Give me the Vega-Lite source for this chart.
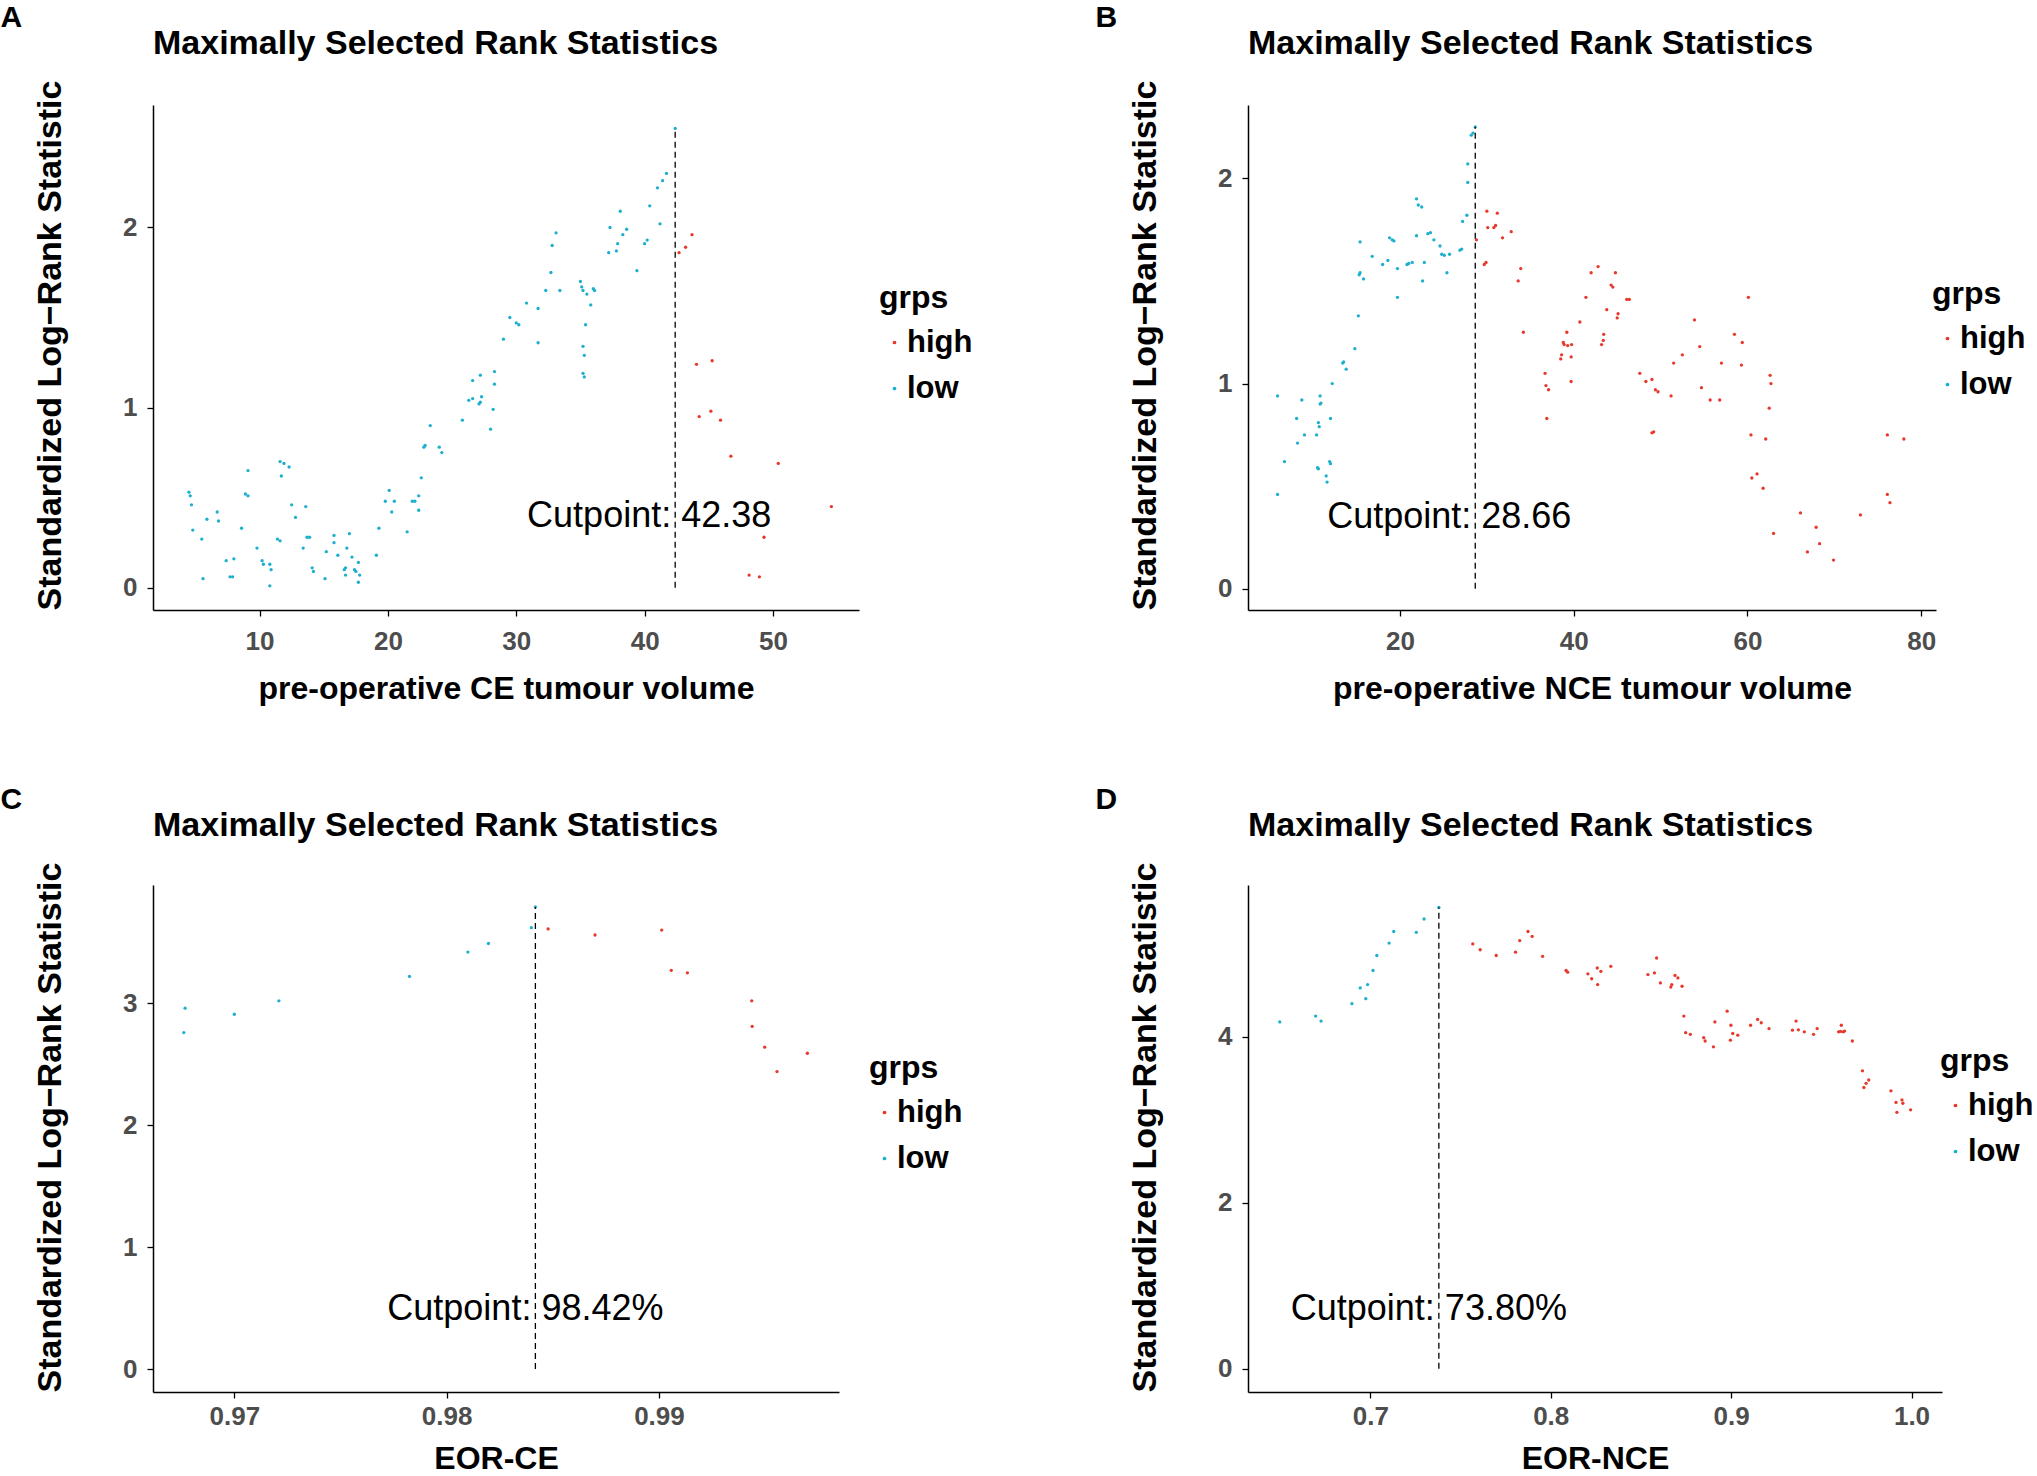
{
  "$schema": "https://vega.github.io/schema/vega-lite/v6.json",
  "background": "white",
  "padding": {"left": 0, "top": 3, "right": 0, "bottom": 0},
  "datasets": {
    "ce": [
      {"cutoff": 4.5, "stat": 0.53, "grps": "low"}, {"cutoff": 4.6, "stat": 0.51, "grps": "low"}, {"cutoff": 4.7, "stat": 0.46, "grps": "low"},
      {"cutoff": 4.8, "stat": 0.32, "grps": "low"}, {"cutoff": 5.5, "stat": 0.27, "grps": "low"}, {"cutoff": 5.6, "stat": 0.05, "grps": "low"},
      {"cutoff": 5.9, "stat": 0.38, "grps": "low"}, {"cutoff": 6.7, "stat": 0.42, "grps": "low"}, {"cutoff": 6.8, "stat": 0.37, "grps": "low"},
      {"cutoff": 7.4, "stat": 0.15, "grps": "low"}, {"cutoff": 8.0, "stat": 0.16, "grps": "low"}, {"cutoff": 7.7, "stat": 0.06, "grps": "low"},
      {"cutoff": 7.9, "stat": 0.06, "grps": "low"}, {"cutoff": 8.6, "stat": 0.33, "grps": "low"}, {"cutoff": 8.9, "stat": 0.52, "grps": "low"},
      {"cutoff": 9.1, "stat": 0.51, "grps": "low"}, {"cutoff": 9.1, "stat": 0.65, "grps": "low"}, {"cutoff": 9.8, "stat": 0.22, "grps": "low"},
      {"cutoff": 10.2, "stat": 0.15, "grps": "low"}, {"cutoff": 10.3, "stat": 0.13, "grps": "low"}, {"cutoff": 10.8, "stat": 0.13, "grps": "low"},
      {"cutoff": 10.9, "stat": 0.10, "grps": "low"}, {"cutoff": 10.8, "stat": 0.01, "grps": "low"}, {"cutoff": 11.4, "stat": 0.27, "grps": "low"},
      {"cutoff": 11.6, "stat": 0.26, "grps": "low"}, {"cutoff": 11.6, "stat": 0.70, "grps": "low"}, {"cutoff": 11.9, "stat": 0.69, "grps": "low"},
      {"cutoff": 12.3, "stat": 0.67, "grps": "low"}, {"cutoff": 11.7, "stat": 0.62, "grps": "low"}, {"cutoff": 12.5, "stat": 0.46, "grps": "low"},
      {"cutoff": 12.8, "stat": 0.39, "grps": "low"}, {"cutoff": 13.4, "stat": 0.22, "grps": "low"}, {"cutoff": 13.6, "stat": 0.45, "grps": "low"},
      {"cutoff": 13.7, "stat": 0.28, "grps": "low"}, {"cutoff": 13.9, "stat": 0.28, "grps": "low"}, {"cutoff": 14.1, "stat": 0.11, "grps": "low"},
      {"cutoff": 14.2, "stat": 0.09, "grps": "low"}, {"cutoff": 15.1, "stat": 0.05, "grps": "low"}, {"cutoff": 15.2, "stat": 0.20, "grps": "low"},
      {"cutoff": 15.8, "stat": 0.29, "grps": "low"}, {"cutoff": 15.8, "stat": 0.25, "grps": "low"}, {"cutoff": 16.1, "stat": 0.18, "grps": "low"},
      {"cutoff": 16.6, "stat": 0.10, "grps": "low"}, {"cutoff": 16.7, "stat": 0.07, "grps": "low"}, {"cutoff": 16.7, "stat": 0.11, "grps": "low"},
      {"cutoff": 16.8, "stat": 0.22, "grps": "low"}, {"cutoff": 17.0, "stat": 0.30, "grps": "low"}, {"cutoff": 17.2, "stat": 0.17, "grps": "low"},
      {"cutoff": 17.4, "stat": 0.10, "grps": "low"}, {"cutoff": 17.5, "stat": 0.09, "grps": "low"}, {"cutoff": 17.8, "stat": 0.07, "grps": "low"},
      {"cutoff": 17.7, "stat": 0.14, "grps": "low"}, {"cutoff": 17.7, "stat": 0.03, "grps": "low"}, {"cutoff": 19.1, "stat": 0.18, "grps": "low"},
      {"cutoff": 19.3, "stat": 0.33, "grps": "low"}, {"cutoff": 19.8, "stat": 0.48, "grps": "low"}, {"cutoff": 20.1, "stat": 0.54, "grps": "low"},
      {"cutoff": 20.3, "stat": 0.42, "grps": "low"}, {"cutoff": 20.5, "stat": 0.48, "grps": "low"}, {"cutoff": 21.5, "stat": 0.31, "grps": "low"},
      {"cutoff": 21.9, "stat": 0.48, "grps": "low"}, {"cutoff": 22.1, "stat": 0.48, "grps": "low"}, {"cutoff": 22.4, "stat": 0.51, "grps": "low"},
      {"cutoff": 22.4, "stat": 0.43, "grps": "low"}, {"cutoff": 22.6, "stat": 0.61, "grps": "low"}, {"cutoff": 22.8, "stat": 0.78, "grps": "low"},
      {"cutoff": 22.9, "stat": 0.79, "grps": "low"}, {"cutoff": 23.3, "stat": 0.90, "grps": "low"}, {"cutoff": 24.0, "stat": 0.78, "grps": "low"},
      {"cutoff": 24.2, "stat": 0.75, "grps": "low"}, {"cutoff": 25.8, "stat": 0.93, "grps": "low"}, {"cutoff": 26.3, "stat": 1.04, "grps": "low"},
      {"cutoff": 26.6, "stat": 1.05, "grps": "low"}, {"cutoff": 26.6, "stat": 1.15, "grps": "low"}, {"cutoff": 27.1, "stat": 1.02, "grps": "low"},
      {"cutoff": 27.2, "stat": 1.03, "grps": "low"}, {"cutoff": 27.2, "stat": 1.18, "grps": "low"}, {"cutoff": 27.3, "stat": 1.06, "grps": "low"},
      {"cutoff": 28.0, "stat": 0.88, "grps": "low"}, {"cutoff": 28.2, "stat": 0.99, "grps": "low"}, {"cutoff": 28.3, "stat": 1.13, "grps": "low"},
      {"cutoff": 28.3, "stat": 1.20, "grps": "low"}, {"cutoff": 29.0, "stat": 1.38, "grps": "low"}, {"cutoff": 29.5, "stat": 1.50, "grps": "low"},
      {"cutoff": 30.0, "stat": 1.47, "grps": "low"}, {"cutoff": 30.2, "stat": 1.46, "grps": "low"}, {"cutoff": 30.8, "stat": 1.58, "grps": "low"},
      {"cutoff": 31.7, "stat": 1.55, "grps": "low"}, {"cutoff": 31.7, "stat": 1.36, "grps": "low"}, {"cutoff": 32.3, "stat": 1.65, "grps": "low"},
      {"cutoff": 32.7, "stat": 1.75, "grps": "low"}, {"cutoff": 32.8, "stat": 1.90, "grps": "low"}, {"cutoff": 33.1, "stat": 1.97, "grps": "low"},
      {"cutoff": 33.4, "stat": 1.65, "grps": "low"}, {"cutoff": 35.0, "stat": 1.70, "grps": "low"}, {"cutoff": 35.1, "stat": 1.67, "grps": "low"},
      {"cutoff": 35.2, "stat": 1.65, "grps": "low"}, {"cutoff": 35.2, "stat": 1.34, "grps": "low"}, {"cutoff": 35.3, "stat": 1.29, "grps": "low"},
      {"cutoff": 35.2, "stat": 1.19, "grps": "low"}, {"cutoff": 35.3, "stat": 1.17, "grps": "low"}, {"cutoff": 35.4, "stat": 1.46, "grps": "low"},
      {"cutoff": 35.5, "stat": 1.63, "grps": "low"}, {"cutoff": 35.8, "stat": 1.57, "grps": "low"}, {"cutoff": 36.0, "stat": 1.66, "grps": "low"},
      {"cutoff": 36.1, "stat": 1.65, "grps": "low"}, {"cutoff": 37.2, "stat": 1.86, "grps": "low"}, {"cutoff": 37.3, "stat": 2.00, "grps": "low"},
      {"cutoff": 37.8, "stat": 1.87, "grps": "low"}, {"cutoff": 37.9, "stat": 1.91, "grps": "low"}, {"cutoff": 38.1, "stat": 2.09, "grps": "low"},
      {"cutoff": 38.3, "stat": 1.96, "grps": "low"}, {"cutoff": 38.6, "stat": 1.99, "grps": "low"}, {"cutoff": 39.4, "stat": 1.76, "grps": "low"},
      {"cutoff": 40.0, "stat": 1.91, "grps": "low"}, {"cutoff": 40.2, "stat": 1.93, "grps": "low"}, {"cutoff": 40.4, "stat": 2.12, "grps": "low"},
      {"cutoff": 41.0, "stat": 2.22, "grps": "low"}, {"cutoff": 41.2, "stat": 2.02, "grps": "low"}, {"cutoff": 41.4, "stat": 2.26, "grps": "low"},
      {"cutoff": 41.7, "stat": 2.30, "grps": "low"}, {"cutoff": 42.38, "stat": 2.55, "grps": "low"},
      {"cutoff": 42.68, "stat": 1.86, "grps": "high"}, {"cutoff": 43.19, "stat": 1.89, "grps": "high"}, {"cutoff": 43.69, "stat": 1.96, "grps": "high"},
      {"cutoff": 44.04, "stat": 1.24, "grps": "high"}, {"cutoff": 44.25, "stat": 0.95, "grps": "high"}, {"cutoff": 45.26, "stat": 1.26, "grps": "high"},
      {"cutoff": 45.16, "stat": 0.98, "grps": "high"}, {"cutoff": 45.91, "stat": 0.93, "grps": "high"}, {"cutoff": 46.72, "stat": 0.73, "grps": "high"},
      {"cutoff": 48.14, "stat": 0.07, "grps": "high"}, {"cutoff": 48.94, "stat": 0.06, "grps": "high"}, {"cutoff": 49.3, "stat": 0.28, "grps": "high"},
      {"cutoff": 50.41, "stat": 0.69, "grps": "high"}, {"cutoff": 54.55, "stat": 0.45, "grps": "high"}
    ],
    "nce": [
      {"cutoff": 5.9, "stat": 0.94, "grps": "low"}, {"cutoff": 5.9, "stat": 0.46, "grps": "low"}, {"cutoff": 6.7, "stat": 0.62, "grps": "low"},
      {"cutoff": 8.1, "stat": 0.83, "grps": "low"}, {"cutoff": 8.2, "stat": 0.71, "grps": "low"}, {"cutoff": 8.7, "stat": 0.92, "grps": "low"},
      {"cutoff": 9.0, "stat": 0.75, "grps": "low"}, {"cutoff": 10.4, "stat": 0.75, "grps": "low"}, {"cutoff": 10.5, "stat": 0.59, "grps": "low"},
      {"cutoff": 10.6, "stat": 0.585, "grps": "low"}, {"cutoff": 10.6, "stat": 0.81, "grps": "low"}, {"cutoff": 10.7, "stat": 0.79, "grps": "low"},
      {"cutoff": 10.8, "stat": 0.94, "grps": "low"}, {"cutoff": 10.8, "stat": 0.90, "grps": "low"}, {"cutoff": 10.9, "stat": 0.905, "grps": "low"},
      {"cutoff": 11.5, "stat": 0.55, "grps": "low"}, {"cutoff": 11.6, "stat": 0.52, "grps": "low"}, {"cutoff": 11.9, "stat": 0.62, "grps": "low"},
      {"cutoff": 12.0, "stat": 0.61, "grps": "low"}, {"cutoff": 12.0, "stat": 0.83, "grps": "low"}, {"cutoff": 12.2, "stat": 1.00, "grps": "low"},
      {"cutoff": 13.4, "stat": 1.10, "grps": "low"}, {"cutoff": 13.5, "stat": 1.105, "grps": "low"}, {"cutoff": 13.8, "stat": 1.07, "grps": "low"},
      {"cutoff": 14.8, "stat": 1.17, "grps": "low"}, {"cutoff": 15.2, "stat": 1.33, "grps": "low"}, {"cutoff": 15.3, "stat": 1.53, "grps": "low"},
      {"cutoff": 15.4, "stat": 1.54, "grps": "low"}, {"cutoff": 15.4, "stat": 1.69, "grps": "low"}, {"cutoff": 15.8, "stat": 1.51, "grps": "low"},
      {"cutoff": 16.8, "stat": 1.62, "grps": "low"}, {"cutoff": 18.0, "stat": 1.58, "grps": "low"}, {"cutoff": 18.6, "stat": 1.60, "grps": "low"},
      {"cutoff": 18.8, "stat": 1.71, "grps": "low"}, {"cutoff": 19.1, "stat": 1.70, "grps": "low"}, {"cutoff": 19.3, "stat": 1.695, "grps": "low"},
      {"cutoff": 19.7, "stat": 1.56, "grps": "low"}, {"cutoff": 19.7, "stat": 1.42, "grps": "low"}, {"cutoff": 20.8, "stat": 1.58, "grps": "low"},
      {"cutoff": 21.0, "stat": 1.585, "grps": "low"}, {"cutoff": 21.4, "stat": 1.59, "grps": "low"}, {"cutoff": 21.9, "stat": 1.72, "grps": "low"},
      {"cutoff": 21.9, "stat": 1.90, "grps": "low"}, {"cutoff": 22.1, "stat": 1.87, "grps": "low"}, {"cutoff": 22.5, "stat": 1.86, "grps": "low"},
      {"cutoff": 22.6, "stat": 1.50, "grps": "low"}, {"cutoff": 22.8, "stat": 1.59, "grps": "low"}, {"cutoff": 23.2, "stat": 1.73, "grps": "low"},
      {"cutoff": 23.5, "stat": 1.735, "grps": "low"}, {"cutoff": 23.9, "stat": 1.70, "grps": "low"}, {"cutoff": 24.6, "stat": 1.67, "grps": "low"},
      {"cutoff": 24.8, "stat": 1.63, "grps": "low"}, {"cutoff": 25.1, "stat": 1.625, "grps": "low"}, {"cutoff": 25.4, "stat": 1.54, "grps": "low"},
      {"cutoff": 25.7, "stat": 1.63, "grps": "low"}, {"cutoff": 26.9, "stat": 1.65, "grps": "low"}, {"cutoff": 27.1, "stat": 1.655, "grps": "low"},
      {"cutoff": 27.2, "stat": 1.79, "grps": "low"}, {"cutoff": 27.7, "stat": 1.82, "grps": "low"}, {"cutoff": 27.8, "stat": 1.98, "grps": "low"},
      {"cutoff": 27.8, "stat": 2.07, "grps": "low"}, {"cutoff": 28.2, "stat": 2.21, "grps": "low"}, {"cutoff": 28.4, "stat": 2.22, "grps": "low"},
      {"cutoff": 28.66, "stat": 2.25, "grps": "low"},
      {"cutoff": 28.8, "stat": 1.70, "grps": "high"}, {"cutoff": 29.7, "stat": 1.58, "grps": "high"}, {"cutoff": 29.9, "stat": 1.59, "grps": "high"},
      {"cutoff": 30.0, "stat": 1.84, "grps": "high"}, {"cutoff": 30.1, "stat": 1.76, "grps": "high"}, {"cutoff": 30.8, "stat": 1.76, "grps": "high"},
      {"cutoff": 31.0, "stat": 1.77, "grps": "high"}, {"cutoff": 31.2, "stat": 1.83, "grps": "high"}, {"cutoff": 31.8, "stat": 1.71, "grps": "high"},
      {"cutoff": 32.8, "stat": 1.74, "grps": "high"}, {"cutoff": 33.6, "stat": 1.50, "grps": "high"}, {"cutoff": 33.9, "stat": 1.56, "grps": "high"},
      {"cutoff": 34.2, "stat": 1.25, "grps": "high"}, {"cutoff": 36.7, "stat": 1.05, "grps": "high"}, {"cutoff": 36.8, "stat": 0.99, "grps": "high"},
      {"cutoff": 36.9, "stat": 0.83, "grps": "high"}, {"cutoff": 37.1, "stat": 0.97, "grps": "high"}, {"cutoff": 38.5, "stat": 1.12, "grps": "high"},
      {"cutoff": 38.6, "stat": 1.14, "grps": "high"}, {"cutoff": 38.8, "stat": 1.20, "grps": "high"}, {"cutoff": 38.9, "stat": 1.19, "grps": "high"},
      {"cutoff": 39.2, "stat": 1.25, "grps": "high"}, {"cutoff": 39.3, "stat": 1.185, "grps": "high"}, {"cutoff": 39.7, "stat": 1.13, "grps": "high"},
      {"cutoff": 39.75, "stat": 1.19, "grps": "high"}, {"cutoff": 39.7, "stat": 1.01, "grps": "high"}, {"cutoff": 40.7, "stat": 1.30, "grps": "high"},
      {"cutoff": 41.4, "stat": 1.42, "grps": "high"}, {"cutoff": 42.0, "stat": 1.54, "grps": "high"}, {"cutoff": 42.8, "stat": 1.57, "grps": "high"},
      {"cutoff": 43.2, "stat": 1.19, "grps": "high"}, {"cutoff": 43.4, "stat": 1.21, "grps": "high"}, {"cutoff": 43.45, "stat": 1.24, "grps": "high"},
      {"cutoff": 43.8, "stat": 1.36, "grps": "high"}, {"cutoff": 44.3, "stat": 1.48, "grps": "high"}, {"cutoff": 44.5, "stat": 1.47, "grps": "high"},
      {"cutoff": 44.8, "stat": 1.54, "grps": "high"}, {"cutoff": 45.0, "stat": 1.32, "grps": "high"}, {"cutoff": 45.1, "stat": 1.34, "grps": "high"},
      {"cutoff": 46.1, "stat": 1.41, "grps": "high"}, {"cutoff": 46.4, "stat": 1.41, "grps": "high"}, {"cutoff": 47.6, "stat": 1.05, "grps": "high"},
      {"cutoff": 48.3, "stat": 1.01, "grps": "high"}, {"cutoff": 49.0, "stat": 1.02, "grps": "high"}, {"cutoff": 49.0, "stat": 0.76, "grps": "high"},
      {"cutoff": 49.2, "stat": 0.765, "grps": "high"}, {"cutoff": 49.4, "stat": 0.97, "grps": "high"}, {"cutoff": 49.7, "stat": 0.96, "grps": "high"},
      {"cutoff": 51.2, "stat": 0.94, "grps": "high"}, {"cutoff": 51.5, "stat": 1.10, "grps": "high"}, {"cutoff": 52.5, "stat": 1.14, "grps": "high"},
      {"cutoff": 53.9, "stat": 1.31, "grps": "high"}, {"cutoff": 54.5, "stat": 1.18, "grps": "high"}, {"cutoff": 54.7, "stat": 0.98, "grps": "high"},
      {"cutoff": 55.7, "stat": 0.92, "grps": "high"}, {"cutoff": 56.8, "stat": 0.92, "grps": "high"}, {"cutoff": 57.0, "stat": 1.10, "grps": "high"},
      {"cutoff": 58.5, "stat": 1.24, "grps": "high"}, {"cutoff": 59.3, "stat": 1.09, "grps": "high"}, {"cutoff": 59.4, "stat": 1.20, "grps": "high"},
      {"cutoff": 60.1, "stat": 1.42, "grps": "high"}, {"cutoff": 60.4, "stat": 0.75, "grps": "high"}, {"cutoff": 60.5, "stat": 0.54, "grps": "high"},
      {"cutoff": 61.1, "stat": 0.56, "grps": "high"}, {"cutoff": 61.8, "stat": 0.49, "grps": "high"}, {"cutoff": 62.1, "stat": 0.73, "grps": "high"},
      {"cutoff": 62.5, "stat": 0.88, "grps": "high"}, {"cutoff": 62.6, "stat": 1.04, "grps": "high"}, {"cutoff": 62.7, "stat": 1.00, "grps": "high"},
      {"cutoff": 63.0, "stat": 0.27, "grps": "high"}, {"cutoff": 66.1, "stat": 0.37, "grps": "high"}, {"cutoff": 66.9, "stat": 0.18, "grps": "high"},
      {"cutoff": 67.9, "stat": 0.30, "grps": "high"}, {"cutoff": 68.3, "stat": 0.22, "grps": "high"}, {"cutoff": 69.9, "stat": 0.14, "grps": "high"},
      {"cutoff": 73.0, "stat": 0.36, "grps": "high"}, {"cutoff": 76.1, "stat": 0.75, "grps": "high"}, {"cutoff": 76.1, "stat": 0.46, "grps": "high"},
      {"cutoff": 76.4, "stat": 0.42, "grps": "high"}, {"cutoff": 78.0, "stat": 0.73, "grps": "high"}
    ],
    "eorce": [
      {"cutoff": 0.96768, "stat": 2.96, "grps": "low"}, {"cutoff": 0.96762, "stat": 2.76, "grps": "low"}, {"cutoff": 0.97000, "stat": 2.91, "grps": "low"},
      {"cutoff": 0.97210, "stat": 3.02, "grps": "low"}, {"cutoff": 0.97825, "stat": 3.22, "grps": "low"}, {"cutoff": 0.98100, "stat": 3.42, "grps": "low"},
      {"cutoff": 0.98197, "stat": 3.49, "grps": "low"}, {"cutoff": 0.98399, "stat": 3.62, "grps": "low"}, {"cutoff": 0.98418, "stat": 3.79, "grps": "low"},
      {"cutoff": 0.98478, "stat": 3.61, "grps": "high"}, {"cutoff": 0.98699, "stat": 3.56, "grps": "high"}, {"cutoff": 0.99013, "stat": 3.60, "grps": "high"},
      {"cutoff": 0.99058, "stat": 3.27, "grps": "high"}, {"cutoff": 0.99134, "stat": 3.25, "grps": "high"}, {"cutoff": 0.99437, "stat": 3.02, "grps": "high"},
      {"cutoff": 0.99439, "stat": 2.81, "grps": "high"}, {"cutoff": 0.99498, "stat": 2.64, "grps": "high"}, {"cutoff": 0.99556, "stat": 2.44, "grps": "high"},
      {"cutoff": 0.99699, "stat": 2.59, "grps": "high"}
    ],
    "eornce": [
      {"cutoff": 0.6498, "stat": 4.18, "grps": "low"}, {"cutoff": 0.6697, "stat": 4.25, "grps": "low"}, {"cutoff": 0.6727, "stat": 4.19, "grps": "low"},
      {"cutoff": 0.6898, "stat": 4.40, "grps": "low"}, {"cutoff": 0.6944, "stat": 4.59, "grps": "low"}, {"cutoff": 0.6975, "stat": 4.46, "grps": "low"},
      {"cutoff": 0.6985, "stat": 4.63, "grps": "low"}, {"cutoff": 0.7015, "stat": 4.80, "grps": "low"}, {"cutoff": 0.7036, "stat": 4.98, "grps": "low"},
      {"cutoff": 0.7104, "stat": 5.13, "grps": "low"}, {"cutoff": 0.7130, "stat": 5.27, "grps": "low"}, {"cutoff": 0.7255, "stat": 5.26, "grps": "low"},
      {"cutoff": 0.7298, "stat": 5.42, "grps": "low"}, {"cutoff": 0.7380, "stat": 5.56, "grps": "low"},
      {"cutoff": 0.7568, "stat": 5.12, "grps": "high"}, {"cutoff": 0.7609, "stat": 5.05, "grps": "high"}, {"cutoff": 0.7698, "stat": 4.98, "grps": "high"},
      {"cutoff": 0.7805, "stat": 5.02, "grps": "high"}, {"cutoff": 0.7828, "stat": 5.16, "grps": "high"}, {"cutoff": 0.7874, "stat": 5.27, "grps": "high"},
      {"cutoff": 0.7897, "stat": 5.21, "grps": "high"}, {"cutoff": 0.7955, "stat": 4.97, "grps": "high"}, {"cutoff": 0.8085, "stat": 4.80, "grps": "high"},
      {"cutoff": 0.8094, "stat": 4.78, "grps": "high"}, {"cutoff": 0.8206, "stat": 4.76, "grps": "high"}, {"cutoff": 0.8227, "stat": 4.70, "grps": "high"},
      {"cutoff": 0.8260, "stat": 4.63, "grps": "high"}, {"cutoff": 0.8258, "stat": 4.83, "grps": "high"}, {"cutoff": 0.8278, "stat": 4.79, "grps": "high"},
      {"cutoff": 0.8333, "stat": 4.85, "grps": "high"}, {"cutoff": 0.8539, "stat": 4.75, "grps": "high"}, {"cutoff": 0.8575, "stat": 4.77, "grps": "high"},
      {"cutoff": 0.8587, "stat": 4.95, "grps": "high"}, {"cutoff": 0.8608, "stat": 4.65, "grps": "high"}, {"cutoff": 0.8666, "stat": 4.60, "grps": "high"},
      {"cutoff": 0.8671, "stat": 4.63, "grps": "high"}, {"cutoff": 0.8689, "stat": 4.74, "grps": "high"}, {"cutoff": 0.8705, "stat": 4.71, "grps": "high"},
      {"cutoff": 0.8728, "stat": 4.61, "grps": "high"}, {"cutoff": 0.8738, "stat": 4.25, "grps": "high"}, {"cutoff": 0.8748, "stat": 4.05, "grps": "high"},
      {"cutoff": 0.8774, "stat": 4.03, "grps": "high"}, {"cutoff": 0.8848, "stat": 3.99, "grps": "high"}, {"cutoff": 0.8856, "stat": 3.95, "grps": "high"},
      {"cutoff": 0.8902, "stat": 3.88, "grps": "high"}, {"cutoff": 0.8910, "stat": 4.18, "grps": "high"}, {"cutoff": 0.8978, "stat": 4.31, "grps": "high"},
      {"cutoff": 0.8996, "stat": 3.96, "grps": "high"}, {"cutoff": 0.8999, "stat": 4.14, "grps": "high"}, {"cutoff": 0.9009, "stat": 4.04, "grps": "high"},
      {"cutoff": 0.9037, "stat": 4.02, "grps": "high"}, {"cutoff": 0.9108, "stat": 4.14, "grps": "high"}, {"cutoff": 0.9147, "stat": 4.21, "grps": "high"},
      {"cutoff": 0.9167, "stat": 4.17, "grps": "high"}, {"cutoff": 0.9210, "stat": 4.10, "grps": "high"}, {"cutoff": 0.9340, "stat": 4.08, "grps": "high"},
      {"cutoff": 0.9360, "stat": 4.19, "grps": "high"}, {"cutoff": 0.9373, "stat": 4.085, "grps": "high"}, {"cutoff": 0.9406, "stat": 4.06, "grps": "high"},
      {"cutoff": 0.9457, "stat": 4.03, "grps": "high"}, {"cutoff": 0.9477, "stat": 4.10, "grps": "high"}, {"cutoff": 0.9596, "stat": 4.06, "grps": "high"},
      {"cutoff": 0.9606, "stat": 4.065, "grps": "high"}, {"cutoff": 0.9621, "stat": 4.06, "grps": "high"}, {"cutoff": 0.9629, "stat": 4.07, "grps": "high"},
      {"cutoff": 0.9611, "stat": 4.14, "grps": "high"}, {"cutoff": 0.9672, "stat": 3.95, "grps": "high"}, {"cutoff": 0.9728, "stat": 3.59, "grps": "high"},
      {"cutoff": 0.9736, "stat": 3.39, "grps": "high"}, {"cutoff": 0.9748, "stat": 3.44, "grps": "high"}, {"cutoff": 0.9763, "stat": 3.48, "grps": "high"},
      {"cutoff": 0.9886, "stat": 3.35, "grps": "high"}, {"cutoff": 0.9914, "stat": 3.21, "grps": "high"}, {"cutoff": 0.9919, "stat": 3.09, "grps": "high"},
      {"cutoff": 0.9947, "stat": 3.24, "grps": "high"}, {"cutoff": 0.9952, "stat": 3.20, "grps": "high"}, {"cutoff": 0.9995, "stat": 3.12, "grps": "high"}
    ],
    "cuts": [
      {"panel": "A", "cutoff": 42.38, "base": 0, "top": 2.55, "label_y": 0.40, "label": "42.38"},
      {"panel": "B", "cutoff": 28.66, "base": 0, "top": 2.25, "label_y": 0.35, "label": "28.66"},
      {"panel": "C", "cutoff": 0.98418, "base": 0, "top": 3.79, "label_y": 0.49, "label": "98.42%"},
      {"panel": "D", "cutoff": 0.7380, "base": 0, "top": 5.56, "label_y": 0.72, "label": "73.80%"}
    ]
  },
  "spacing": 81,
  "resolve": {"scale": {"color": "independent"}, "legend": {"color": "independent"}},
  "vconcat": [
    {
      "spacing": 122,
      "resolve": {"scale": {"color": "independent"}, "legend": {"color": "independent"}},
      "hconcat": [
        {
          "title": {"text": "A", "anchor": "start", "frame": "bounds", "dx": -33, "offset": -6, "fontSize": 30},
          "vconcat": [
            {
              "width": 706,
              "height": 505,
              "title": "Maximally Selected Rank Statistics",
              "layer": [
                {
                  "data": {"name": "ce"},
                  "mark": {"type": "circle", "size": 11, "opacity": 1},
                  "encoding": {
                    "x": {"field": "cutoff", "type": "quantitative", "title": "pre-operative CE tumour volume", "scale": {"domain": [1.7, 56.7], "nice": false, "zero": false}, "axis": {"values": [10, 20, 30, 40, 50]}},
                    "y": {"field": "stat", "type": "quantitative", "title": "Standardized Log−Rank Statistic", "scale": {"domain": [-0.124, 2.68], "nice": false, "zero": false}, "axis": {"values": [0, 1, 2], "format": "d"}},
                    "color": {"field": "grps", "type": "nominal", "title": "grps", "scale": {"domain": ["high", "low"], "range": ["#E8382C", "#1DAFCE"]}, "legend": {"orient": "none", "legendX": 726, "legendY": 178}}
                  }
                },
                {
                  "data": {"name": "cuts"},
                  "transform": [{"filter": "datum.panel == 'A'"}],
                  "mark": {"type": "rule", "color": "black", "strokeWidth": 1.3, "strokeDash": [6, 4]},
                  "encoding": {
                    "x": {"field": "cutoff", "type": "quantitative", "title": "pre-operative CE tumour volume"},
                    "y": {"field": "base", "type": "quantitative", "title": "Standardized Log−Rank Statistic"},
                    "y2": {"field": "top"}
                  }
                },
                {
                  "data": {"name": "cuts"},
                  "transform": [{"filter": "datum.panel == 'A'"}],
                  "mark": {"type": "text", "align": "right", "baseline": "middle", "dx": -4, "fontSize": 36, "color": "black"},
                  "encoding": {
                    "x": {"field": "cutoff", "type": "quantitative", "title": "pre-operative CE tumour volume"},
                    "y": {"field": "label_y", "type": "quantitative", "title": "Standardized Log−Rank Statistic"},
                    "text": {"value": "Cutpoint:"}
                  }
                },
                {
                  "data": {"name": "cuts"},
                  "transform": [{"filter": "datum.panel == 'A'"}],
                  "mark": {"type": "text", "align": "left", "baseline": "middle", "dx": 6, "fontSize": 36, "color": "black"},
                  "encoding": {
                    "x": {"field": "cutoff", "type": "quantitative", "title": "pre-operative CE tumour volume"},
                    "y": {"field": "label_y", "type": "quantitative", "title": "Standardized Log−Rank Statistic"},
                    "text": {"field": "label"}
                  }
                }
              ]
            }
          ]
        },
        {
          "title": {"text": "B", "anchor": "start", "frame": "bounds", "dx": -33, "offset": -6, "fontSize": 30},
          "vconcat": [
            {
              "width": 688,
              "height": 505,
              "title": "Maximally Selected Rank Statistics",
              "layer": [
                {
                  "data": {"name": "nce"},
                  "mark": {"type": "circle", "size": 11, "opacity": 1},
                  "encoding": {
                    "x": {"field": "cutoff", "type": "quantitative", "title": "pre-operative NCE tumour volume", "scale": {"domain": [2.5, 81.7], "nice": false, "zero": false}, "axis": {"values": [20, 40, 60, 80]}},
                    "y": {"field": "stat", "type": "quantitative", "title": "Standardized Log−Rank Statistic", "scale": {"domain": [-0.103, 2.357], "nice": false, "zero": false}, "axis": {"values": [0, 1, 2], "format": "d"}},
                    "color": {"field": "grps", "type": "nominal", "title": "grps", "scale": {"domain": ["high", "low"], "range": ["#E8382C", "#1DAFCE"]}, "legend": {"orient": "none", "legendX": 684, "legendY": 174}}
                  }
                },
                {
                  "data": {"name": "cuts"},
                  "transform": [{"filter": "datum.panel == 'B'"}],
                  "mark": {"type": "rule", "color": "black", "strokeWidth": 1.3, "strokeDash": [6, 4]},
                  "encoding": {
                    "x": {"field": "cutoff", "type": "quantitative", "title": "pre-operative NCE tumour volume"},
                    "y": {"field": "base", "type": "quantitative", "title": "Standardized Log−Rank Statistic"},
                    "y2": {"field": "top"}
                  }
                },
                {
                  "data": {"name": "cuts"},
                  "transform": [{"filter": "datum.panel == 'B'"}],
                  "mark": {"type": "text", "align": "right", "baseline": "middle", "dx": -4, "fontSize": 36, "color": "black"},
                  "encoding": {
                    "x": {"field": "cutoff", "type": "quantitative", "title": "pre-operative NCE tumour volume"},
                    "y": {"field": "label_y", "type": "quantitative", "title": "Standardized Log−Rank Statistic"},
                    "text": {"value": "Cutpoint:"}
                  }
                },
                {
                  "data": {"name": "cuts"},
                  "transform": [{"filter": "datum.panel == 'B'"}],
                  "mark": {"type": "text", "align": "left", "baseline": "middle", "dx": 6, "fontSize": 36, "color": "black"},
                  "encoding": {
                    "x": {"field": "cutoff", "type": "quantitative", "title": "pre-operative NCE tumour volume"},
                    "y": {"field": "label_y", "type": "quantitative", "title": "Standardized Log−Rank Statistic"},
                    "text": {"field": "label"}
                  }
                }
              ]
            }
          ]
        }
      ]
    },
    {
      "spacing": 132,
      "resolve": {"scale": {"color": "independent"}, "legend": {"color": "independent"}},
      "hconcat": [
        {
          "title": {"text": "C", "anchor": "start", "frame": "bounds", "dx": -33, "offset": -6, "fontSize": 30},
          "vconcat": [
            {
              "width": 686,
              "height": 507,
              "title": "Maximally Selected Rank Statistics",
              "layer": [
                {
                  "data": {"name": "eorce"},
                  "mark": {"type": "circle", "size": 11, "opacity": 1},
                  "encoding": {
                    "x": {"field": "cutoff", "type": "quantitative", "title": "EOR-CE", "scale": {"domain": [0.96617, 0.99848], "nice": false, "zero": false}, "axis": {"values": [0.97, 0.98, 0.99], "format": ".2f", "labelPadding": 5, "titlePadding": 14}},
                    "y": {"field": "stat", "type": "quantitative", "title": "Standardized Log−Rank Statistic", "scale": {"domain": [-0.188, 3.97], "nice": false, "zero": false}, "axis": {"values": [0, 1, 2, 3], "format": "d"}},
                    "color": {"field": "grps", "type": "nominal", "title": "grps", "scale": {"domain": ["high", "low"], "range": ["#E8382C", "#1DAFCE"]}, "legend": {"orient": "none", "legendX": 716, "legendY": 168}}
                  }
                },
                {
                  "data": {"name": "cuts"},
                  "transform": [{"filter": "datum.panel == 'C'"}],
                  "mark": {"type": "rule", "color": "black", "strokeWidth": 1.3, "strokeDash": [6, 4]},
                  "encoding": {
                    "x": {"field": "cutoff", "type": "quantitative", "title": "EOR-CE"},
                    "y": {"field": "base", "type": "quantitative", "title": "Standardized Log−Rank Statistic"},
                    "y2": {"field": "top"}
                  }
                },
                {
                  "data": {"name": "cuts"},
                  "transform": [{"filter": "datum.panel == 'C'"}],
                  "mark": {"type": "text", "align": "right", "baseline": "middle", "dx": -4, "fontSize": 36, "color": "black"},
                  "encoding": {
                    "x": {"field": "cutoff", "type": "quantitative", "title": "EOR-CE"},
                    "y": {"field": "label_y", "type": "quantitative", "title": "Standardized Log−Rank Statistic"},
                    "text": {"value": "Cutpoint:"}
                  }
                },
                {
                  "data": {"name": "cuts"},
                  "transform": [{"filter": "datum.panel == 'C'"}],
                  "mark": {"type": "text", "align": "left", "baseline": "middle", "dx": 6, "fontSize": 36, "color": "black"},
                  "encoding": {
                    "x": {"field": "cutoff", "type": "quantitative", "title": "EOR-CE"},
                    "y": {"field": "label_y", "type": "quantitative", "title": "Standardized Log−Rank Statistic"},
                    "text": {"field": "label"}
                  }
                }
              ]
            }
          ]
        },
        {
          "title": {"text": "D", "anchor": "start", "frame": "bounds", "dx": -33, "offset": -6, "fontSize": 30},
          "vconcat": [
            {
              "width": 694,
              "height": 507,
              "title": "Maximally Selected Rank Statistics",
              "layer": [
                {
                  "data": {"name": "eornce"},
                  "mark": {"type": "circle", "size": 11, "opacity": 1},
                  "encoding": {
                    "x": {"field": "cutoff", "type": "quantitative", "title": "EOR-NCE", "scale": {"domain": [0.6322, 1.0169], "nice": false, "zero": false}, "axis": {"values": [0.7, 0.8, 0.9, 1.0], "format": ".1f", "labelPadding": 5, "titlePadding": 14}},
                    "y": {"field": "stat", "type": "quantitative", "title": "Standardized Log−Rank Statistic", "scale": {"domain": [-0.28, 5.83], "nice": false, "zero": false}, "axis": {"values": [0, 2, 4], "format": "d"}},
                    "color": {"field": "grps", "type": "nominal", "title": "grps", "scale": {"domain": ["high", "low"], "range": ["#E8382C", "#1DAFCE"]}, "legend": {"orient": "none", "legendX": 692, "legendY": 161}}
                  }
                },
                {
                  "data": {"name": "cuts"},
                  "transform": [{"filter": "datum.panel == 'D'"}],
                  "mark": {"type": "rule", "color": "black", "strokeWidth": 1.3, "strokeDash": [6, 4]},
                  "encoding": {
                    "x": {"field": "cutoff", "type": "quantitative", "title": "EOR-NCE"},
                    "y": {"field": "base", "type": "quantitative", "title": "Standardized Log−Rank Statistic"},
                    "y2": {"field": "top"}
                  }
                },
                {
                  "data": {"name": "cuts"},
                  "transform": [{"filter": "datum.panel == 'D'"}],
                  "mark": {"type": "text", "align": "right", "baseline": "middle", "dx": -4, "fontSize": 36, "color": "black"},
                  "encoding": {
                    "x": {"field": "cutoff", "type": "quantitative", "title": "EOR-NCE"},
                    "y": {"field": "label_y", "type": "quantitative", "title": "Standardized Log−Rank Statistic"},
                    "text": {"value": "Cutpoint:"}
                  }
                },
                {
                  "data": {"name": "cuts"},
                  "transform": [{"filter": "datum.panel == 'D'"}],
                  "mark": {"type": "text", "align": "left", "baseline": "middle", "dx": 6, "fontSize": 36, "color": "black"},
                  "encoding": {
                    "x": {"field": "cutoff", "type": "quantitative", "title": "EOR-NCE"},
                    "y": {"field": "label_y", "type": "quantitative", "title": "Standardized Log−Rank Statistic"},
                    "text": {"field": "label"}
                  }
                }
              ]
            }
          ]
        }
      ]
    }
  ],
  "config": {
    "font": "Liberation Sans",
    "view": {"stroke": null},
    "title": {"font": "Liberation Sans", "fontSize": 34, "fontWeight": "bold", "color": "black", "anchor": "start", "frame": "group", "offset": 19},
    "axis": {
      "grid": false,
      "domainColor": "black",
      "domainWidth": 1.5,
      "tickColor": "black",
      "tickWidth": 1.3,
      "tickSize": 6,
      "labelFont": "Liberation Sans",
      "labelFontSize": 26,
      "labelFontWeight": "bold",
      "labelColor": "#4D4D4D",
      "labelFlush": false,
      "labelOverlap": false,
      "titleFont": "Liberation Sans",
      "titleColor": "black",
      "titleFontWeight": "bold"
    },
    "axisX": {"labelPadding": 12, "titlePadding": 19, "titleFontSize": 32},
    "axisY": {"labelPadding": 10, "titlePadding": 55, "titleFontSize": 34, "titleAnchor": "start"},
    "legend": {
      "titleFont": "Liberation Sans",
      "labelFont": "Liberation Sans",
      "titleFontSize": 32,
      "titleFontWeight": "bold",
      "titleColor": "black",
      "labelFontSize": 31,
      "labelFontWeight": "bold",
      "labelColor": "black",
      "symbolType": "circle",
      "symbolSize": 14,
      "symbolStrokeWidth": 0,
      "rowPadding": 14,
      "titlePadding": 12,
      "labelOffset": -3,
      "symbolOffset": 0
    },
    "text": {"font": "Liberation Sans"}
  }
}
